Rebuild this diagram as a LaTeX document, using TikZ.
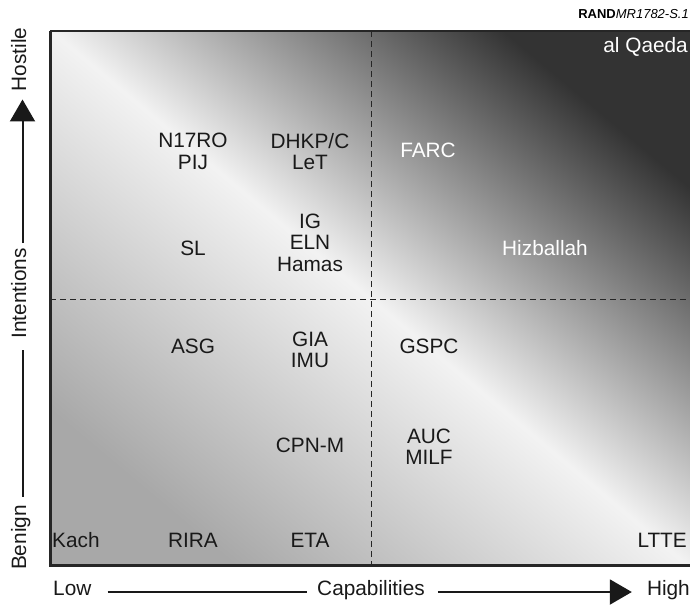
\documentclass[tikz,border=0pt]{standalone}
\usepackage{fontspec}
\setmainfont{Liberation Sans}
\usetikzlibrary{arrows.meta}
\begin{document}
\begin{tikzpicture}[x=1pt,y=-1pt]
        \useasboundingbox (0,0) rectangle (690,608);
        % background of the chart
        \shade[top color=black!80, bottom color=black!34, middle color=black!5, shading angle=-40]
            (50,31) rectangle (690,565);
        \draw[black!85, line width=1pt, dash pattern=on 6pt off 4pt] (371,31) -- (371,565);
        \draw[black!85, line width=1pt, dash pattern=on 6pt off 4pt] (50,299) -- (690,299);
        \draw[black!85, line width=1.5pt] (690,31) -- (50,31);
        \draw[black!85, line width=3pt] (50,31) -- (50,565) -- (690,565);
        \begin{scope}[every node/.style={inner sep=0pt, align=center, text=black!90,
                font=\fontsize{20.8}{21.5}\selectfont}]
            \node (N17RO) at (193,151.5) {N17RO\\PIJ};
            \node (DHKPC) at (310,151.5) {DHKP/C\\LeT};
            \node (IG) at (310,242.5) {IG\\ELN\\Hamas};
            \node (SL) at (193,248) {SL};
            \node (ASG) at (193,346) {ASG};
            \node (GIA) at (310,350) {GIA\\IMU};
            \node (GSPC) at (429,346) {GSPC};
            \node (CPNM) at (310,445) {CPN-M};
            \node (AUC) at (429,446.5) {AUC\\MILF};
            \node[anchor=west] (Kach) at (52,540) {Kach};
            \node (RIRA) at (193,540) {RIRA};
            \node (ETA) at (310,540) {ETA};
            \node[anchor=east] (LTTE) at (687,540) {LTTE};
        \end{scope}
        \begin{scope}[every node/.style={inner sep=0pt, text=white,
                font=\fontsize{20.8}{21.5}\selectfont}]
            \node (FARC) at (428,150) {FARC};
            \node (Hizb) at (545,248) {Hizballah};
            \node[anchor=east] (alQ) at (688,47) {al Qaeda};
        \end{scope}
        \node[anchor=east, inner sep=0pt, font=\fontsize{13}{13}\selectfont] (rand) at (689,14)
            {\textbf{RAND}\textit{MR1782-S.1}};
        % axes
        \begin{scope}[every node/.style={inner sep=0pt, text=black!90, text height=0.72em, text depth=0pt,
                font=\fontsize{20.8}{21.5}\selectfont}]
            \node[rotate=90] (hostile) at (22.5,59.5) {Hostile};
            \node[rotate=90] (intent) at (22.5,293.5) {Intentions};
            \node[rotate=90] (benign) at (22.5,537.5) {Benign};
            \node[anchor=west] (low) at (53,592) {Low};
            \node (capab) at (371,592) {Capabilities};
            \node[anchor=east] (high) at (690,592) {High};
        \end{scope}
        \begin{scope}[every path/.style={draw=black!90, line width=2pt}]
            \path (benign) edge[shorten <=8pt, shorten >=11pt] (intent);
            \path (intent) edge[-{Triangle[length=22pt,width=25pt]}, shorten <=5pt, shorten >=8pt] (hostile);
            \path (low) edge[shorten <=16pt, shorten >=10pt] (capab);
            \path (capab) edge[-{Triangle[length=22pt,width=25pt]}, shorten <=13pt, shorten >=15pt] (high);
        \end{scope}
\end{tikzpicture}
\end{document}
